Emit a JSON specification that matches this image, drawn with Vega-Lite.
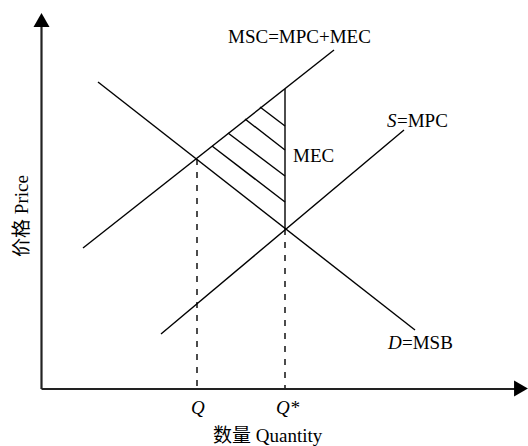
{
  "$schema": "https://vega.github.io/schema/vega-lite/v6.json",
  "width": 528,
  "height": 446,
  "padding": 0,
  "autosize": {"type": "fit", "contains": "padding"},
  "config": {"view": {"stroke": null}},
  "background": "white",
  "datasets": {
    "axes": [
      {"x": 41.5, "y": 27, "x2": 41.5, "y2": 389},
      {"x": 41.5, "y": 389, "x2": 515, "y2": 389}
    ],
    "solid": [
      {"name": "MSC", "x": 83, "y": 248, "x2": 334, "y2": 50},
      {"name": "D", "x": 98, "y": 82, "x2": 415, "y2": 330},
      {"name": "S", "x": 161, "y": 334, "x2": 404, "y2": 130},
      {"name": "MEC", "x": 285, "y": 89, "x2": 285, "y2": 229},
      {"name": "h1", "x": 260, "y": 107, "x2": 285, "y2": 126},
      {"name": "h2", "x": 245, "y": 119, "x2": 285, "y2": 150},
      {"name": "h3", "x": 228, "y": 133, "x2": 285, "y2": 176},
      {"name": "h4", "x": 212, "y": 146, "x2": 285, "y2": 202}
    ],
    "dashed": [
      {"x": 197, "y": 159, "x2": 197, "y2": 388},
      {"x": 285, "y": 229, "x2": 285, "y2": 388}
    ],
    "arrows": [
      {"x": 41.5, "y": 20, "dir": "up"},
      {"x": 521, "y": 388.5, "dir": "right"}
    ],
    "textNormal": [
      {"label": "MSC=MPC+MEC", "x": 228, "y": 43},
      {"label": "=MPC", "x": 397, "y": 127},
      {"label": "MEC", "x": 293, "y": 162},
      {"label": "=MSB", "x": 402, "y": 349},
      {"label": "数量 Quantity", "x": 213, "y": 442}
    ],
    "textItalic": [
      {"label": "S", "x": 387, "y": 127},
      {"label": "D", "x": 388, "y": 349},
      {"label": "Q", "x": 191, "y": 414},
      {"label": "Q*", "x": 276, "y": 414}
    ],
    "ylabel": [
      {"label": "价格 Price", "x": 22, "y": 216}
    ]
  },
  "layer": [
    {
      "data": {"name": "axes"},
      "mark": {"type": "rule", "strokeWidth": 2.2, "color": "#222"},
      "encoding": {
        "x": {"field": "x", "type": "quantitative", "scale": {"domain": [0, 528], "nice": false, "zero": false}, "axis": null},
        "y": {"field": "y", "type": "quantitative", "scale": {"domain": [0, 446], "nice": false, "zero": false, "reverse": true}, "axis": null},
        "x2": {"field": "x2"},
        "y2": {"field": "y2"}
      }
    },
    {
      "data": {"name": "solid"},
      "mark": {"type": "rule", "strokeWidth": 1.4, "color": "black"},
      "encoding": {
        "x": {"field": "x", "type": "quantitative"},
        "y": {"field": "y", "type": "quantitative"},
        "x2": {"field": "x2"},
        "y2": {"field": "y2"}
      }
    },
    {
      "data": {"name": "dashed"},
      "mark": {"type": "rule", "strokeWidth": 1.4, "color": "black", "strokeDash": [6, 7]},
      "encoding": {
        "x": {"field": "x", "type": "quantitative"},
        "y": {"field": "y", "type": "quantitative"},
        "x2": {"field": "x2"},
        "y2": {"field": "y2"}
      }
    },
    {
      "data": {"name": "arrows"},
      "mark": {"type": "point", "filled": true, "color": "black", "opacity": 1, "size": 256, "strokeWidth": 0},
      "encoding": {
        "x": {"field": "x", "type": "quantitative"},
        "y": {"field": "y", "type": "quantitative"},
        "shape": {"field": "dir", "type": "nominal", "scale": {"domain": ["up", "right"], "range": ["triangle-up", "triangle-right"]}, "legend": null}
      }
    },
    {
      "data": {"name": "textNormal"},
      "mark": {"type": "text", "align": "left", "baseline": "alphabetic", "fontSize": 19, "font": "'Liberation Serif', 'Times New Roman', 'Noto Sans CJK SC', serif", "color": "black"},
      "encoding": {
        "x": {"field": "x", "type": "quantitative"},
        "y": {"field": "y", "type": "quantitative"},
        "text": {"field": "label"}
      }
    },
    {
      "data": {"name": "textItalic"},
      "mark": {"type": "text", "align": "left", "baseline": "alphabetic", "fontSize": 19, "fontStyle": "italic", "font": "'Liberation Serif', 'Times New Roman', serif", "color": "black"},
      "encoding": {
        "x": {"field": "x", "type": "quantitative"},
        "y": {"field": "y", "type": "quantitative"},
        "text": {"field": "label"}
      }
    },
    {
      "data": {"name": "ylabel"},
      "mark": {"type": "text", "align": "center", "baseline": "middle", "angle": 270, "fontSize": 19, "font": "'Liberation Serif', 'Times New Roman', 'Noto Sans CJK SC', serif", "color": "black"},
      "encoding": {
        "x": {"field": "x", "type": "quantitative"},
        "y": {"field": "y", "type": "quantitative"},
        "text": {"field": "label"}
      }
    }
  ]
}
